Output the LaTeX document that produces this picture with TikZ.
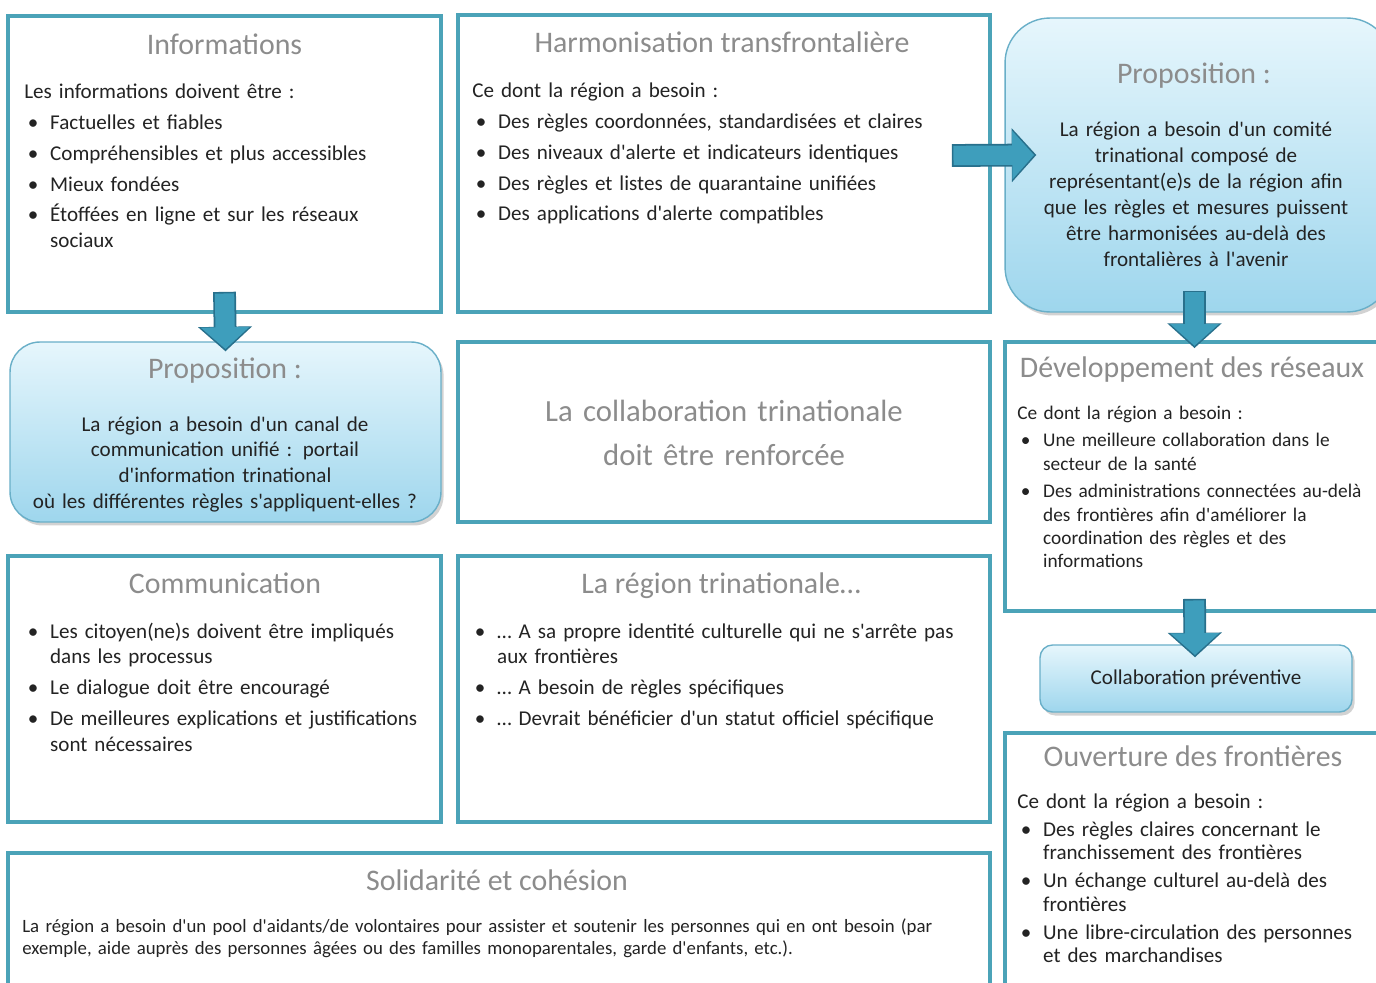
\documentclass[tikz,border=0pt]{standalone}
\usepackage{fontspec}
\setmainfont{Carlito}[Ligatures=TeXOff]
\usetikzlibrary{arrows.meta, shadows, calc}
\definecolor{boxcol}{RGB}{75,163,184}
\definecolor{titlegray}{RGB}{140,140,140}
\definecolor{bodytxt}{RGB}{35,35,35}
\definecolor{proptop}{RGB}{230,246,252}
\definecolor{propbot}{RGB}{158,214,237}
\definecolor{propedge}{RGB}{105,175,200}
\definecolor{arrfill}{RGB}{62,158,188}
\definecolor{arrdark}{RGB}{40,112,140}
\newlength{\itsep}
\newcommand{\hd}[1]{\noindent#1\par\vskip\itsep}
\newcommand{\itm}[1]{\hangindent=14.7pt\hangafter=1\noindent\hbox to 14.7pt{\hskip2pt\textbullet\hfil}#1\par\vskip\itsep}
\tikzset{every picture/.style = {x=0.02cm, y=-0.02cm}}
\tikzset{panel/.style = {draw=boxcol, line width=2.2pt, fill=white}}
\tikzset{prop/.style = {draw=propedge, line width=0.8pt, top color=proptop, bottom color=propbot, drop shadow={opacity=0.35, shadow xshift=1.5pt, shadow yshift=-2pt}}}
\tikzset{boxtitle/.style = {titlegray, font=\fontsize{17}{20}\selectfont, anchor=base, inner sep=0}}
\tikzset{body/.style = {bodytxt, font={\fontsize{12}{14.7}\selectfont\setlength{\itsep}{2.8pt}}, anchor=base west, inner sep=0, align=left}}
\tikzset{cbody/.style = {bodytxt, font=\fontsize{12}{14.7}\selectfont, anchor=base, inner sep=0, align=center}}
\tikzset{arrout/.style = {arrdark, line width=13pt, -{Triangle[width=30pt, length=14pt]}}}
\tikzset{arrin/.style = {arrfill, line width=11pt, shorten >=1.3pt, shorten <=0.9pt, -{Triangle[width=27pt, length=12.4pt]}}}

\begin{document}
\begin{tikzpicture}
  \clip (0,0) rectangle (1376,983);
  \fill[white] (0,0) rectangle (1376,983);
  % left column
  \node[panel, minimum width=8.66cm, minimum height=5.92cm] (info) at (224.5,164) {};
  \node[boxtitle] (infoT) at (224.5,55) {Informations};
  \node[body, text width=8.1cm] (infoB) at (24,99) {\hd{Les informations doivent être :}\itm{Factuelles et fiables}\itm{Compréhensibles et plus accessibles}\itm{Mieux fondées}\itm{Étoffées en ligne et sur les réseaux\newline sociaux}};
  \node[prop, rounded corners=0.6cm, minimum width=8.62cm, minimum height=3.6cm] (propL) at (225.5,432) {};
  \node[boxtitle] (propLT) at (225,378) {Proposition :};
  \node[cbody, text width=8cm] (propLB) at (225,431) {La région a besoin d'un canal de\\ communication unifié : portail\\ d'information trinational\\ où les différentes règles s'appliquent-elles ?};
  \node[panel, minimum width=8.66cm, minimum height=5.32cm] (comm) at (224.5,689) {};
  \node[boxtitle] (commT) at (225,593) {Communication};
  \node[body, text width=8.1cm] (commB) at (24,638) {\itm{Les citoyen(ne)s doivent être impliqués\newline dans les processus}\itm{Le dialogue doit être encouragé}\itm{De meilleures explications et justifications\newline sont nécessaires}};
  % middle column
  \node[panel, minimum width=10.64cm, minimum height=5.94cm] (harm) at (724,163.5) {};
  \node[boxtitle] (harmT) at (722,53) {Harmonisation transfrontalière};
  \node[body, text width=10cm] (harmB) at (472,98) {\hd{Ce dont la région a besoin :}\itm{Des règles coordonnées, standardisées et claires}\itm{Des niveaux d'alerte et indicateurs identiques}\itm{Des règles et listes de quarantaine unifiées}\itm{Des applications d'alerte compatibles}};
  \node[panel, minimum width=10.64cm, minimum height=3.6cm] (collab) at (724,432) {};
  \node[boxtitle, align=center, text width=10cm, font=\fontsize{17.5}{25.5}\selectfont] (collabT) at (724,421) {La collaboration trinationale\\ doit être renforcée};
  \node[panel, minimum width=10.64cm, minimum height=5.32cm] (region) at (724,689) {};
  \node[boxtitle] (regionT) at (721,593) {La région trinationale…};
  \node[body, text width=10cm] (regionB) at (471,638) {\itm{… A sa propre identité culturelle qui ne s'arrête pas\newline aux frontières}\itm{… A besoin de règles spécifiques}\itm{… Devrait bénéficier d'un statut officiel spécifique}};
  \node[panel, minimum width=19.64cm, minimum height=3.14cm] (soli) at (499,931.5) {};
  \node[boxtitle] (soliT) at (497,890) {Solidarité et cohésion};
  \node[body, text width=19cm, font=\fontsize{10.7}{13}\selectfont] (soliB) at (22,932) {La région a besoin d'un pool d'aidants/de volontaires pour assister et soutenir les personnes qui en ont besoin (par\newline exemple, aide auprès des personnes âgées ou des familles monoparentales, garde d'enfants, etc.).};
  % right column
  \node[prop, rounded corners=0.9cm, minimum width=7.74cm, minimum height=5.88cm] (propR) at (1198.5,165) {};
  \node[boxtitle] (propRT) at (1194,84) {Proposition :};
  \node[cbody, text width=7cm] (propRB) at (1196,137) {La région a besoin d'un comité\\ trinational composé de\\ représentant(e)s de la région afin\\ que les règles et mesures puissent\\ être harmonisées au-delà des\\ frontalières à l'avenir};
  \node[panel, minimum width=7.74cm, minimum height=5.38cm] (dev) at (1198.5,476.5) {};
  \node[boxtitle] (devT) at (1192,377) {Développement des réseaux};
  \node[body, text width=7cm, font={\fontsize{11}{13.3}\selectfont\setlength{\itsep}{2.5pt}}] (devB) at (1017,419) {\hd{Ce dont la région a besoin :}\itm{Une meilleure collaboration dans le\newline secteur de la santé}\itm{Des administrations connectées au-delà\newline des frontières afin d'améliorer la\newline coordination des règles et des\newline informations}};
  \node[prop, rounded corners=0.25cm, minimum width=6.24cm, minimum height=1.34cm, text=bodytxt, font=\fontsize{12}{14}\selectfont] (prev) at (1196,678.5) {Collaboration préventive};
  \node[panel, minimum width=7.74cm, minimum height=5.54cm] (ouv) at (1198.5,871.5) {};
  \node[boxtitle] (ouvT) at (1193,766) {Ouverture des frontières};
  \node[body, text width=7cm, font={\fontsize{12}{13.3}\selectfont\setlength{\itsep}{2.8pt}}] (ouvB) at (1017,808) {\hd{Ce dont la région a besoin :}\itm{Des règles claires concernant le\newline franchissement des frontières}\itm{Un échange culturel au-delà des\newline frontières}\itm{Une libre-circulation des personnes\newline et des marchandises}};
  % arrows
  \draw[arrout] ($(info.south)+(0,-22)$) -- ($(propL.north)+(0,10)$);
  \draw[arrin] ($(info.south)+(0,-22)$) -- ($(propL.north)+(0,10)$);
  \draw[arrout] ($(harm.east)+(-40,-8)$) -- ($(propR.west)+(32,-10)$);
  \draw[arrin] ($(harm.east)+(-40,-8)$) -- ($(propR.west)+(32,-10)$);
  \draw[arrout] ($(propR.south)+(-4,-22)$) -- ($(dev.north)+(-4,8)$);
  \draw[arrin] ($(propR.south)+(-4,-22)$) -- ($(dev.north)+(-4,8)$);
  \draw[arrout] ($(dev.south)+(-4,-14)$) -- ($(prev.north)+(-1,13)$);
  \draw[arrin] ($(dev.south)+(-4,-14)$) -- ($(prev.north)+(-1,13)$);
\end{tikzpicture}
\end{document}
